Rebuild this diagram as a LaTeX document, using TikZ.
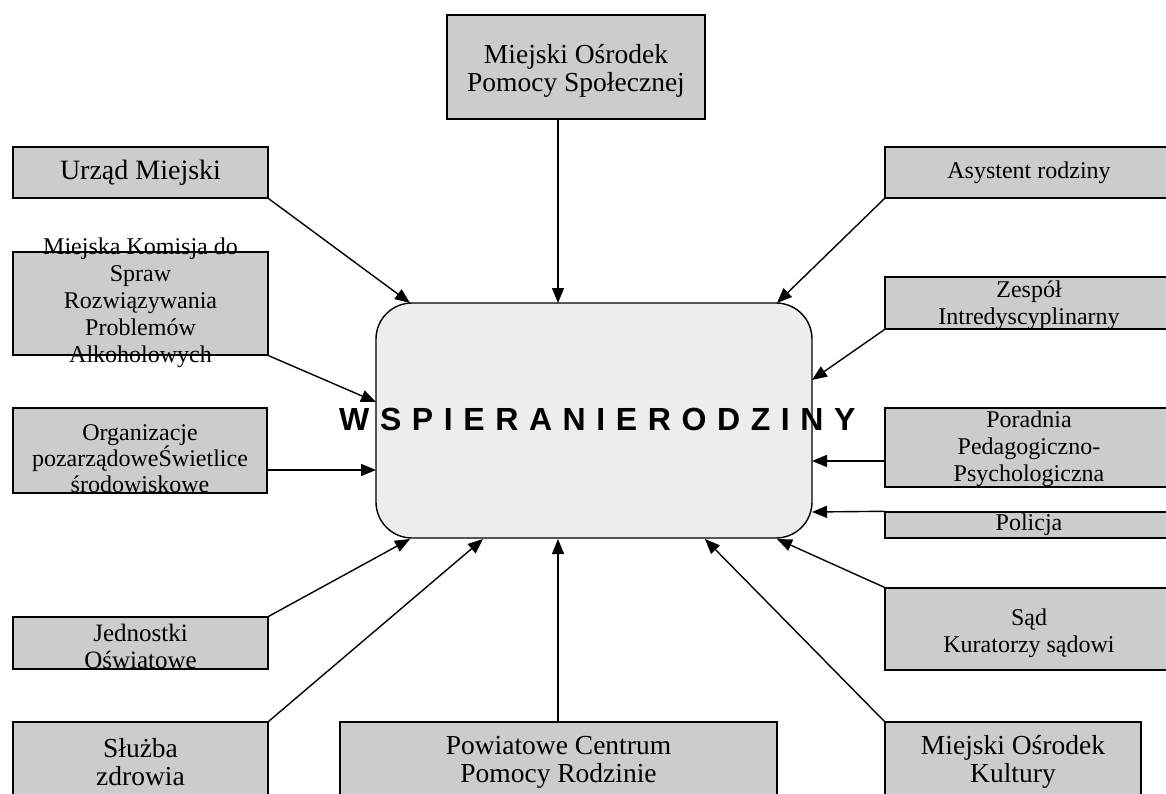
\documentclass[tikz,border=0pt]{standalone}
\usepackage{fontspec}
\setmainfont{Liberation Serif}
\newfontfamily\titlefont{Liberation Sans}
\usetikzlibrary{arrows.meta}
\definecolor{boxgray}{HTML}{CCCCCC}
\definecolor{centgray}{HTML}{EDEDED}
\tikzset{
  orgbox/.style={draw=black, line width=1.4pt, fill=boxgray, rectangle, inner sep=0pt},
  lbl/.style={align=center, inner sep=0pt, font=\fontsize{24}{27}\selectfont},
  lblbig/.style={align=center, inner sep=0pt, font=\fontsize{27.5}{28}\selectfont},
  conn/.style={line width=1.4pt, -{Triangle[length=15pt,width=12pt]}},
}
\newcommand\ls[1]{#1\hspace{10.6pt}}
\begin{document}
\begin{tikzpicture}[x=1pt,y=-1pt]
\useasboundingbox (0,0) rectangle (1166,794);

% centre
\node[draw, line width=1.4pt, fill=centgray, rounded corners=36pt, minimum width=436pt, minimum height=235pt, inner sep=0pt] (C) at (594,420.5) {};
\node[inner sep=0pt, anchor=west, font=\titlefont\bfseries\fontsize{32}{32}\selectfont] (title) at (339,419) {\ls{W}\ls{S}\ls{P}\ls{I}\ls{E}\ls{R}\ls{A}\ls{N}\ls{I}\ls{E}\ls{R}\ls{O}\ls{D}\ls{Z}\ls{I}\ls{N}Y};

% boxes
\node[orgbox, minimum width=258pt, minimum height=104pt] (mops) at (576,67) {};
\node[lblbig] at (576,71) {Miejski Ośrodek\\Pomocy Społecznej};

\node[orgbox, minimum width=255pt, minimum height=51pt] (um) at (140.5,172.5) {};
\node[lblbig, font=\fontsize{28}{30}\selectfont] at (140.5,173) {Urząd Miejski};

\node[orgbox, minimum width=255pt, minimum height=103pt] (km) at (140.5,303.5) {};
\node[lbl] at (140.5,303) {Miejska Komisja do\\Spraw\\Rozwiązywania\\Problemów\\Alkoholowych};

\node[orgbox, minimum width=254pt, minimum height=85pt] (org) at (140,450.5) {};
\node[lbl, font=\fontsize{24}{26}\selectfont] at (140,459) {Organizacje\\pozarządoweŚwietlice\\środowiskowe};

\node[orgbox, minimum width=255pt, minimum height=52pt] (jo) at (140.5,643) {};
\node[lbl, font=\fontsize{25}{27}\selectfont] at (140.5,646) {Jednostki\\Oświatowe};

\node[orgbox, minimum width=255pt, minimum height=110pt] (sz) at (140.5,777) {};
\node[lblbig] at (140.5,762) {Służba\\zdrowia};

\node[orgbox, minimum width=437pt, minimum height=110pt] (pc) at (558.5,777) {};
\node[lblbig] at (558.5,762) {Powiatowe Centrum\\Pomocy Rodzinie};

\node[orgbox, minimum width=256pt, minimum height=110pt] (mok) at (1013,777) {};
\node[lblbig] at (1013,762) {Miejski Ośrodek\\Kultury};

\node[orgbox, minimum width=290pt, minimum height=51pt] (as) at (1030,172.5) {};
\node[lbl] at (1029,173) {Asystent rodziny};

\node[orgbox, minimum width=290pt, minimum height=52pt] (ze) at (1030,303) {};
\node[lbl] at (1029,305) {Zespół\\Intredyscyplinarny};

\node[orgbox, minimum width=290pt, minimum height=79pt] (pp) at (1030,447.5) {};
\node[lbl] at (1029,449) {Poradnia\\Pedagogiczno-\\Psychologiczna};

\node[orgbox, minimum width=290pt, minimum height=26pt] (po) at (1030,525) {};
\node[lbl] at (1029,525) {Policja};

\node[orgbox, minimum width=290pt, minimum height=82pt] (sd) at (1030,629) {};
\node[lbl] at (1029,633) {Sąd\\Kuratorzy sądowi};

% arrow ends on the centre box
\coordinate (e1) at (558,303);
\coordinate (e2) at (410,303);
\coordinate (e3) at (376,402);
\coordinate (e4) at (376,470);
\coordinate (e5) at (410,539);
\coordinate (e6) at (483,539);
\coordinate (e7) at (558,539);
\coordinate (e8) at (705,539);
\coordinate (e9) at (777,539);
\coordinate (e10) at (812,512);
\coordinate (e11) at (812,461);
\coordinate (e12) at (812,380);
\coordinate (e13) at (777,303);

% connectors
\draw[conn] (e1 |- mops.south) -- (e1);
\draw[conn] (um.south east) -- (e2);
\draw[conn] (km.south east) -- (e3);
\draw[conn] (org.east |- e4) -- (e4);
\draw[conn] (jo.north east) -- (e5);
\draw[conn] (sz.north east) -- (e6);
\draw[conn] (e7 |- pc.north) -- (e7);
\draw[conn] (mok.north west) -- (e8);
\draw[conn] (sd.north west) -- (e9);
\draw[conn] (po.north west) -- (e10);
\draw[conn] (pp.west |- e11) -- (e11);
\draw[conn] (ze.south west) -- (e12);
\draw[conn] (as.south west) -- (e13);
\end{tikzpicture}
\end{document}
